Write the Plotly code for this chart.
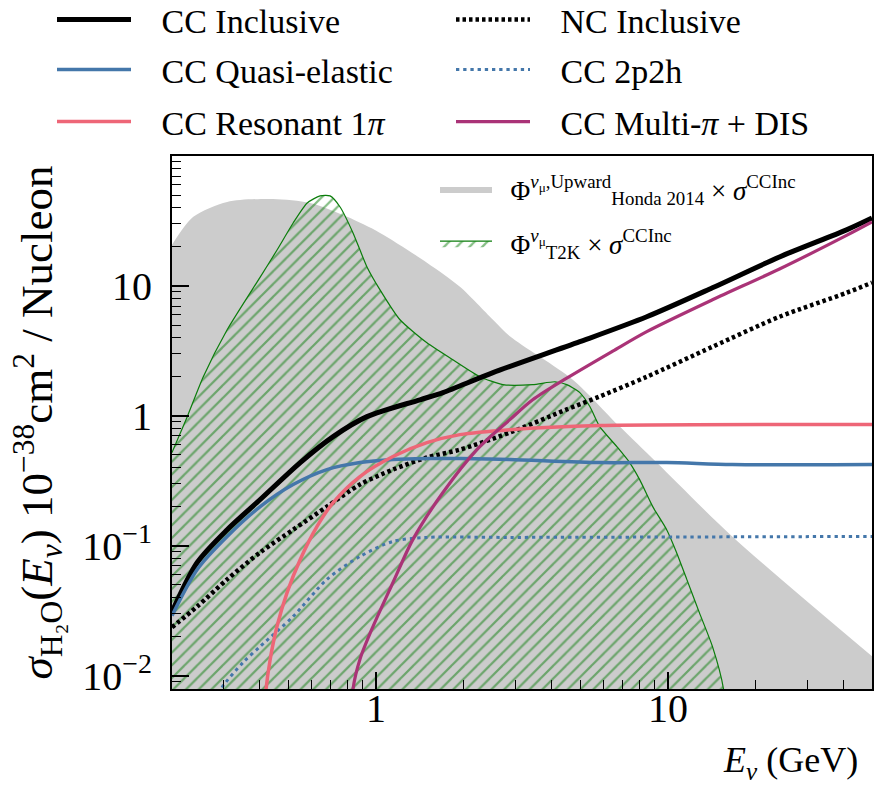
import math
import plotly.graph_objects as go

# ---------------- data ----------------
# Honda 2014 upward numu flux x sigma_CCInc (grey band)
honda_energy = [0.2, 0.2366, 0.309, 0.444, 0.594, 0.796, 1.032, 1.494, 1.938, 2.515, 2.873, 4.72, 6.78, 9.15, 16.6, 50.0]
honda_rate = [20.7, 34.0, 44.3, 46.7, 43.5, 34.0, 25.6, 15.1, 9.85, 5.49, 4.1, 1.90, 0.841, 0.437, 0.118, 0.0141]

# T2K numu flux x sigma_CCInc (hatched band)
t2k_energy = [0.2, 0.2256, 0.256, 0.309, 0.401, 0.458, 0.520, 0.581, 0.643, 0.696, 0.753, 0.834, 0.931,
              1.032, 1.208, 1.494, 1.834, 2.268, 2.72, 3.44, 4.10, 4.50, 4.99, 5.40, 5.84, 6.68, 7.39,
              8.00, 8.87, 9.90, 10.7, 11.6, 12.8, 14.2, 15.5, 16.5]
t2k_rate = [0.521, 0.986, 2.0, 4.6, 11.7, 18.9, 30.5, 43.5, 49.3, 49.3, 40.5, 25.6, 14.0,
            9.33, 5.49, 3.65, 2.70, 2.0, 1.74, 1.74, 1.83, 1.74, 1.51, 1.18, 0.826, 0.580, 0.437,
            0.323, 0.200, 0.133, 0.0889, 0.0551, 0.0307, 0.0168, 0.0079, 0.001]

# cross sections, 1e-38 cm^2 / nucleon
cc_inc_energy = [0.2, 0.244, 0.309, 0.401, 0.550, 0.713, 0.931, 1.414, 1.695, 2.515, 4.99, 8.46, 14.2, 24.1, 40.9, 50.0]
cc_inc_xsec = [0.031, 0.0744, 0.133, 0.227, 0.437, 0.692, 0.986, 1.33, 1.51, 2.15, 3.72, 5.79, 9.67, 16.7, 27.0, 33.3]

nc_inc_energy = [0.2, 0.244, 0.309, 0.401, 0.520, 0.679, 0.881, 1.143, 1.494, 1.938, 2.873, 4.50, 5.84, 8.46, 14.2, 24.1, 40.9, 50.0]
nc_inc_xsec = [0.0236, 0.0341, 0.0551, 0.0889, 0.133, 0.200, 0.296, 0.386, 0.478, 0.550, 0.743, 1.12, 1.41, 2.0, 3.40, 5.79, 8.85, 10.6]

cc_qe_energy = [0.2, 0.244, 0.309, 0.401, 0.520, 0.679, 0.881, 1.143, 1.494, 1.938, 2.873, 5.84, 9.90, 16.6, 50.0]
cc_qe_xsec = [0.029, 0.0658, 0.118, 0.200, 0.296, 0.386, 0.437, 0.461, 0.469, 0.470, 0.461, 0.437, 0.437, 0.422, 0.422]

cc_2p2h_energy = [0.29, 0.297, 0.351, 0.401, 0.520, 0.679, 0.881, 1.143, 1.494, 2.873, 50.0]
cc_2p2h_xsec = [0.0072, 0.00815, 0.0127, 0.0168, 0.0286, 0.0551, 0.0828, 0.108, 0.116, 0.116, 0.118]

cc_res_energy = [0.415, 0.420, 0.434, 0.458, 0.496, 0.550, 0.628, 0.713, 0.881, 1.143, 1.494, 1.938, 2.873, 5.84, 50.0]
cc_res_xsec = [0.005, 0.00786, 0.0134, 0.0240, 0.0438, 0.0785, 0.141, 0.215, 0.341, 0.486, 0.622, 0.717, 0.783, 0.841, 0.856]

cc_dis_energy = [0.83, 0.834, 0.881, 0.977, 1.143, 1.338, 1.695, 2.216, 2.873, 3.44, 4.50, 6.47, 8.46, 14.2, 24.1, 40.9, 50.0]
cc_dis_xsec = [0.006, 0.0079, 0.0134, 0.0240, 0.0522, 0.112, 0.257, 0.550, 0.935, 1.33, 1.95, 3.15, 4.45, 7.82, 13.5, 24.5, 31.1]

series_names = ["CC Inclusive", "NC Inclusive", "CC Quasi-elastic", "CC 2p2h",
                "CC Resonant 1<i>π</i>", "CC Multi-<i>π</i> + DIS"]
honda_label = "Φ<sup><i>ν</i><sub>μ</sub>,Upward</sup><sub>Honda 2014</sub> × <i>σ</i><sup>CCInc</sup>"
t2k_label = "Φ<sup><i>ν</i><sub>μ</sub></sup><sub>T2K</sub> × <i>σ</i><sup>CCInc</sup>"

x_tick_vals = [1, 10]
x_tick_text = ["1", "10"]
y_tick_vals = [0.01, 0.1, 1, 10]
y_tick_text = ["10<sup>−2</sup>", "10<sup>−1</sup>", "1", "10"]

X_MIN, X_MAX = 0.2, 50.0
Y_MIN, Y_MAX = 0.0079, 100.0

minor_x = [m * 10 ** k for k in (-1, 0, 1) for m in range(2, 10) if X_MIN <= m * 10 ** k <= X_MAX]
minor_y = [m * 10 ** k for k in (-3, -2, -1, 0, 1) for m in range(2, 10) if Y_MIN <= m * 10 ** k <= Y_MAX]

# ---------------- styling ----------------
SERIF = "Liberation Serif"
GREY = "#cccccc"
GREEN = "#0b7d0b"
BLUE = "#4477aa"
RED = "#ee6677"
PURPLE = "#aa3377"
NBSP = "\u00a0"

fig = go.Figure()

fig.add_trace(go.Scatter(
    x=honda_energy, y=honda_rate, mode="lines", line=dict(width=0, color=GREY, shape="spline", smoothing=0.8),
    fill="tozeroy", fillcolor=GREY, name=NBSP * 2 + honda_label, legend="legend4", legendgroup="honda"))
fig.add_trace(go.Scatter(
    x=t2k_energy, y=t2k_rate, mode="lines", line=dict(width=1.2, color=GREEN, shape="spline", smoothing=0.6),
    fill="tozeroy", fillcolor="rgba(0,0,0,0)",
    fillpattern=dict(shape="/", fgcolor=GREEN, bgcolor="rgba(0,0,0,0)", size=9, solidity=0.25),
    name=NBSP * 2 + t2k_label, legend="legend4", legendgroup="t2k"))

line_specs = [
    (cc_inc_energy, cc_inc_xsec, series_names[0], "black", 5, "solid", "legend"),
    (nc_inc_energy, nc_inc_xsec, series_names[1], "black", 4.5, "3.5px,3px", "legend"),
    (cc_qe_energy, cc_qe_xsec, series_names[2], BLUE, 3.5, "solid", "legend2"),
    (cc_2p2h_energy, cc_2p2h_xsec, series_names[3], BLUE, 3, "3.3px,3.9px", "legend2"),
    (cc_res_energy, cc_res_xsec, series_names[4], RED, 3.5, "solid", "legend3"),
    (cc_dis_energy, cc_dis_xsec, series_names[5], PURPLE, 3.2, "solid", "legend3"),
]
for xs, ys, name, color, width, dash, leg in line_specs:
    fig.add_trace(go.Scatter(
        x=xs, y=ys, mode="lines", name=NBSP * 3 + name, legend=leg,
        line=dict(color=color, width=width, dash=dash, shape="spline", smoothing=0.8)))

PLOT_L, PLOT_R, PLOT_T, PLOT_B = 172, 3, 156, 97
W, H = 875, 786
pw, ph = W - PLOT_L - PLOT_R, H - PLOT_T - PLOT_B


def px_to_paper_x(px):
    return (px - PLOT_L) / pw


def px_to_paper_y(py):
    return (H - PLOT_B - py) / ph


top_legend = dict(orientation="h", xanchor="left", yanchor="middle", x=px_to_paper_x(52),
                  itemwidth=74, entrywidth=310, bgcolor="rgba(0,0,0,0)", borderwidth=0,
                  font=dict(family=SERIF, size=34, color="black"), traceorder="normal")

axis_common = dict(type="log", showline=True, linecolor="black", linewidth=2, mirror=True,
                   showgrid=False, zeroline=False, ticks="inside", ticklen=17, tickwidth=1.5,
                   tickcolor="black", tickmode="array",
                   tickfont=dict(family=SERIF, size=40, color="black"))

fig.update_layout(
    width=W, height=H,
    margin=dict(l=PLOT_L, r=PLOT_R, t=PLOT_T, b=PLOT_B, autoexpand=False),
    paper_bgcolor="white", plot_bgcolor="white",
    font=dict(family=SERIF, color="black"),
    xaxis=dict(axis_common, range=[math.log10(X_MIN), math.log10(X_MAX)],
               tickvals=x_tick_vals, ticktext=x_tick_text, ticklabelstandoff=-17,
               minor=dict(tickmode="array", tickvals=minor_x, ticks="inside", ticklen=9,
                          tickwidth=1.2, tickcolor="black", showgrid=False)),
    yaxis=dict(axis_common, range=[math.log10(Y_MIN), math.log10(Y_MAX)],
               tickvals=y_tick_vals, ticktext=y_tick_text, ticklabelstandoff=10,
               minor=dict(tickmode="array", tickvals=minor_y, ticks="inside", ticklen=9,
                          tickwidth=1.2, tickcolor="black", showgrid=False),
               title=dict(text="<i>σ</i><sub>H₂O</sub>(<i>E<sub>ν</sub></i>) 10<sup>−38</sup>cm<sup>2</sup> / Nucleon",
                          font=dict(family=SERIF, size=45, color="black"), standoff=15)),
    legend=dict(top_legend, y=px_to_paper_y(20)),
    legend2=dict(top_legend, y=px_to_paper_y(70)),
    legend3=dict(top_legend, y=px_to_paper_y(122)),
    legend4=dict(orientation="v", xanchor="left", yanchor="top", x=px_to_paper_x(435),
                 y=px_to_paper_y(165), itemwidth=52, bgcolor="rgba(0,0,0,0)", borderwidth=0,
                 tracegroupgap=16, font=dict(family=SERIF, size=27, color="black")),
    annotations=[dict(text="<i>E<sub>ν</sub></i> (GeV)", xref="paper", yref="paper",
                      x=px_to_paper_x(860), y=px_to_paper_y(762), xanchor="right", yanchor="middle",
                      showarrow=False, font=dict(family=SERIF, size=36, color="black"))],
)

fig.write_html("out.html", config={"displayModeBar": False},
               post_script="document.body.style.margin='0px';document.body.style.padding='0px';")
